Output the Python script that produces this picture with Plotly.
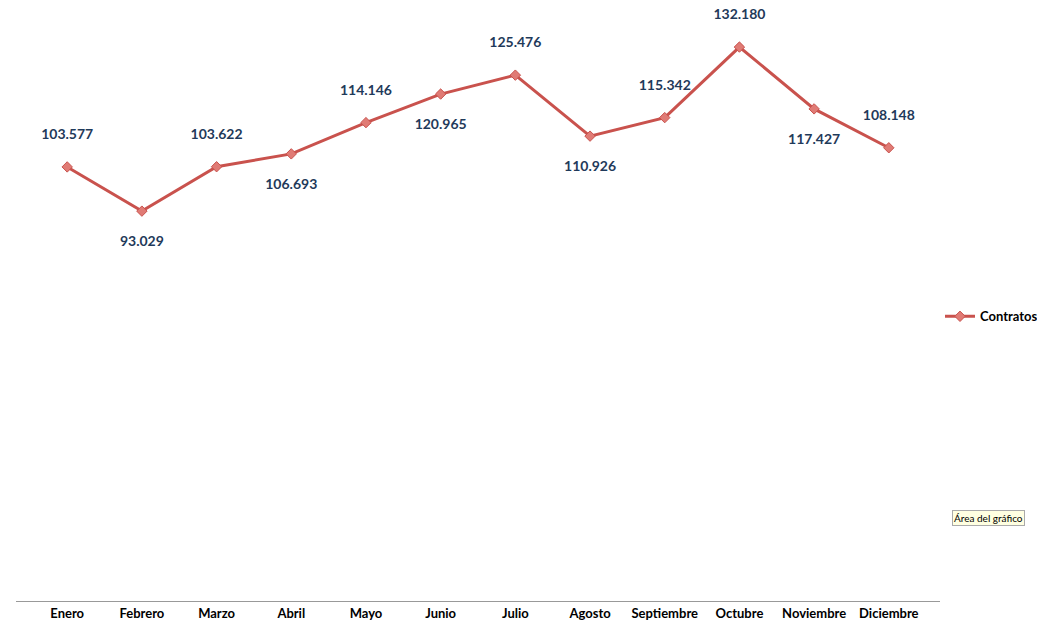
import plotly.graph_objects as go

months = ["Enero","Febrero","Marzo","Abril","Mayo","Junio","Julio","Agosto","Septiembre","Octubre","Noviembre","Diciembre"]
contratos = [103577,93029,103622,106693,114146,120965,125476,110926,115342,132180,117427,108148]
positions = ["top center","bottom center","top center","bottom center","top center","bottom center","top center","bottom center","top center","top center","bottom center","top center"]
templates = ["%{y:,}<br> " if p.startswith("top") else " <br>%{y:,}" for p in positions]

fig = go.Figure(go.Scatter(
    x=months, y=contratos, name="Contratos", mode="lines+markers+text",
    line=dict(color="#c9524d", width=3),
    marker=dict(symbol="diamond", size=8, color="#e07b75", line=dict(color="#c9524d", width=1)),
    texttemplate=templates, textposition=positions,
    textfont=dict(family="Lato", size=14, color="#1f3a5a", weight="bold"),
))
fig.update_layout(
    width=1045, height=624, separators=",.",
    margin=dict(l=8, r=113, t=0, b=31, autoexpand=False),
    plot_bgcolor="white", paper_bgcolor="white",
    font=dict(family="Lato", size=14, color="#000"),
    showlegend=True,
    legend=dict(x=1.0, y=0.48, yanchor="middle", itemwidth=30, tracegroupgap=0,
                font=dict(family="Lato", size=13, color="#000", weight="bold")),
    xaxis=dict(showline=True, linecolor="#999", linewidth=1, ticks="", showgrid=False,
               tickfont=dict(family="Lato", size=13, color="#000", weight="bold")),
    yaxis=dict(range=[0, 141.5e3], visible=False, showgrid=False),
    annotations=[dict(xref="paper", yref="paper", x=1.013, y=0.14, xanchor="left", yanchor="middle",
                      text="Área del gráfico", showarrow=False, bgcolor="#ffffe1", bordercolor="#aaa",
                      borderwidth=1, font=dict(family="Lato", size=10, color="#000"))],
)
fig.write_html("out.html")
